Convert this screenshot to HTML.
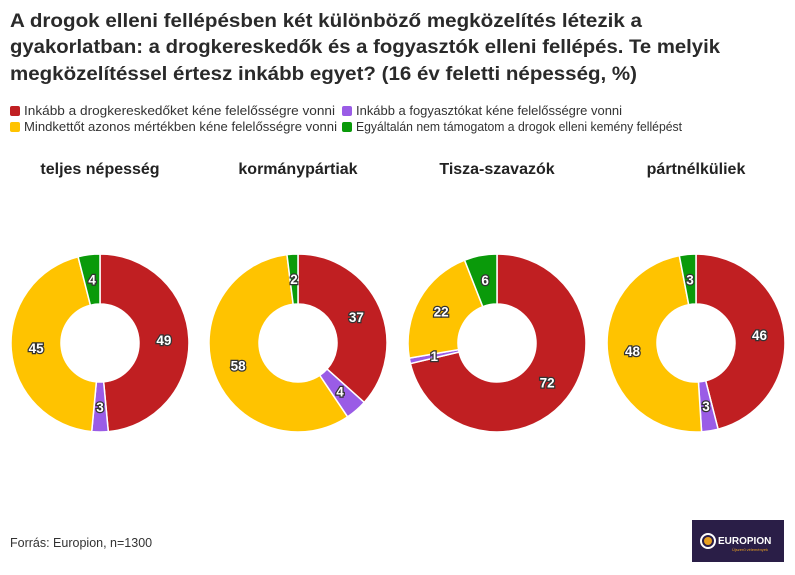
<!DOCTYPE html>
<html><head><meta charset="utf-8"><style>
body{margin:0;width:795px;height:575px;background:#fff;font-family:"Liberation Sans",sans-serif;color:#222;overflow:hidden;position:relative}
.src{position:absolute;left:10px;top:536px;font-size:12.5px;color:#333}
.logo{position:absolute;left:692px;top:520px;width:92px;height:42px;background:#2a1e47;color:#fff}
</style></head><body>
<svg id="s" width="795" height="575" style="position:absolute;left:0;top:0" font-family="Liberation Sans"></svg>
<div class="src">Forrás: Europion, n=1300</div>
<div class="logo"><svg width="92" height="42"><circle cx="16" cy="21" r="7" fill="none" stroke="#fff" stroke-width="2"/><circle cx="16" cy="21" r="4" fill="#e8a020"/><text x="26" y="24" fill="#fff" font-size="10" font-weight="bold" font-family="Liberation Sans">EUROPION</text><text x="40" y="31" fill="#e8a020" font-size="4" font-family="Liberation Sans">Újszerű vélemények</text></svg></div>
<script>
var cols=["#c01f22","#9a5ce6","#ffc300","#0a9a0a"];
var h="";
var T=[["A drogok elleni fellépésben két különböző megközelítés létezik a",27,632],["gyakorlatban: a drogkereskedők és a fogyasztók elleni fellépés. Te melyik",53,710],["megközelítéssel értesz inkább egyet? (16 év feletti népesség, %)",80,627]];
T.forEach(function(t){h+='<text x="10" y="'+t[1]+'" font-size="19" font-weight="bold" fill="#2a2a2a" textLength="'+t[2]+'" lengthAdjust="spacingAndGlyphs">'+t[0]+'</text>';});
var L=[[10,115,0,"Inkább a drogkereskedőket kéne felelősségre vonni",311],[342,115,1,"Inkább a fogyasztókat kéne felelősségre vonni",266],[10,131,2,"Mindkettőt azonos mértékben kéne felelősségre vonni",313],[342,131,3,"Egyáltalán nem támogatom a drogok elleni kemény fellépést",326]];
L.forEach(function(l){h+='<rect x="'+l[0]+'" y="'+(l[1]-9)+'" width="10" height="10" rx="2" fill="'+cols[l[2]]+'"/><text x="'+(l[0]+14)+'" y="'+l[1]+'" font-size="12.5" fill="#333" textLength="'+l[4]+'" lengthAdjust="spacingAndGlyphs">'+l[3]+'</text>';});
var D=[["teljes népesség",100,[49,3,45,4]],["kormánypártiak",298,[37,4,58,2]],["Tisza-szavazók",497,[72,1,22,6]],["pártnélküliek",696,[46,3,48,3]]];
var cy=343,R=89,r=39;
D.forEach(function(d){
 var cx=d[1],v=d[2],s=v.reduce(function(a,b){return a+b},0),a=0;
 h+='<text x="'+cx+'" y="174" text-anchor="middle" font-size="16" font-weight="bold" fill="#222">'+d[0]+'</text>';
 var lab="";
 v.forEach(function(x,i){
  var a0=a/s*2*Math.PI,a1=(a+x)/s*2*Math.PI;a+=x;
  var P=function(rr,t){return (cx+rr*Math.sin(t)).toFixed(2)+","+(cy-rr*Math.cos(t)).toFixed(2)};
  var lg=(a1-a0)>Math.PI?1:0;
  h+='<path d="M'+P(R,a0)+'A'+R+','+R+' 0 '+lg+' 1 '+P(R,a1)+'L'+P(r,a1)+'A'+r+','+r+' 0 '+lg+' 0 '+P(r,a0)+'Z" fill="'+cols[i]+'" stroke="#fff" stroke-width="1.5"/>';
  var m=(a0+a1)/2,rr=64;
  lab+='<text x="'+(cx+rr*Math.sin(m)).toFixed(1)+'" y="'+(cy-rr*Math.cos(m)+5).toFixed(1)+'" text-anchor="middle" font-size="13.5" font-weight="bold" fill="#fff" stroke="#333" stroke-width="2.5" paint-order="stroke">'+x+'</text>';
 });
 h+=lab;
});
document.getElementById("s").innerHTML=h;
</script>
</body></html>
